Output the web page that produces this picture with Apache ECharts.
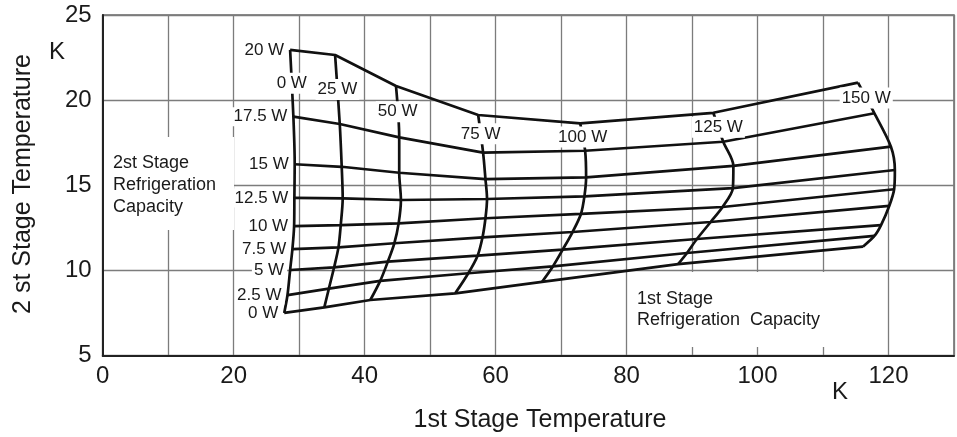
<!DOCTYPE html>
<html>
  <head>
    <meta charset='UTF-8'>
    <title>Refrigeration capacity map</title>
    <script src="https://cdn.jsdelivr.net/npm/echarts@6/dist/echarts.min.js"></script>
    <style>
      html, body { margin: 0; padding: 0; background: #fff; }
    </style>
  </head>
  <body>
    <div id="main" style="width: 957px;height:437px;"></div>
    <script type="text/javascript">
    // loads (W) on each stage
    var q1Loads = [0, 25, 50, 75, 100, 125, 150];
    var q2Loads = [0, 2.5, 5, 7.5, 10, 12.5, 15, 17.5, 20];

    // 1st stage temperature (K) at each crossing: one row per 1st stage load, columns follow q2Loads
    var t1 = [
      [27.72, 28.22, 28.62, 28.97, 29.23, 29.27, 29.32, 29.12, 28.62],
      [33.84, 34.54, 35.34, 36.00, 36.35, 36.65, 36.50, 36.20, 35.49],
      [40.87, 42.38, 43.54, 44.53, 45.19, 45.54, 45.28, 45.28, 44.79],
      [53.83, 55.83, 57.25, 58.00, 58.45, 58.69, 58.45, 58.09, 57.34],
      [67.08, 68.74, 70.25, 71.75, 73.03, 73.56, 73.82, 73.67, 72.91],
      [87.87, 89.23, 90.74, 92.84, 94.65, 96.23, 96.31, 94.76, 93.25],
      [116.09, 117.85, 118.86, 120.11, 120.86, 120.97, 120.37, 117.85, 115.34]
    ];
    // 2nd stage temperature (K) at the same crossings
    var t2 = [
      [7.51, 8.56, 10.03, 11.26, 12.61, 14.26, 16.24, 19.03, 22.95],
      [7.84, 8.94, 10.19, 11.36, 12.67, 14.24, 16.09, 18.60, 22.65],
      [8.27, 9.39, 10.52, 11.60, 12.77, 14.14, 15.74, 17.82, 20.83],
      [8.66, 9.84, 10.87, 11.95, 13.07, 14.20, 15.37, 16.92, 19.13],
      [9.33, 10.24, 11.23, 12.26, 13.32, 14.35, 15.47, 17.03, 18.64],
      [10.38, 11.03, 11.85, 12.85, 13.73, 14.84, 16.14, 17.56, 19.26],
      [11.40, 12.03, 12.67, 13.79, 14.77, 15.90, 17.27, 19.23, 21.03]
    ];

    var xTickLabels = [0, 20, 40, 60, 80, 100, 120];
    var yTickLabels = [5, 10, 15, 20, 25];

    var FONT = "'Liberation Sans', Arial, Helvetica, sans-serif";
    var INK = '#111';
    var TXT = '#1a1a1a';

    var myChart = echarts.init(document.getElementById('main'));

    var series = [];
    var curveStyle = { color: INK, width: 2.7 };

    // constant 1st stage load curves (roughly vertical)
    q1Loads.forEach(function (w, i) {
      series.push({
        type: 'line', z: 3, symbol: 'none', smooth: 0.3,
        lineStyle: curveStyle,
        data: q2Loads.map(function (_, j) { return [t1[i][j], t2[i][j]]; })
      });
    });
    // constant 2nd stage load lines (roughly horizontal)
    q2Loads.forEach(function (w, j) {
      series.push({
        type: 'line', z: 3, symbol: 'none',
        lineStyle: curveStyle,
        data: q1Loads.map(function (_, i) { return [t1[i][j], t2[i][j]]; })
      });
    });

    var labelBase = {
      show: true,
      opacity: 1,
      color: TXT,
      fontFamily: FONT,
      fontSize: 17,
      lineHeight: 17,
      backgroundColor: '#fff',
      formatter: '{b}'
    };

    // 2nd stage load labels, left of the 0 W end of each line
    series.push({
      type: 'scatter', zlevel: 1, z: 6, symbolSize: 0, silent: true,
      itemStyle: { color: '#000', opacity: 1 },
      label: Object.assign({}, labelBase, { position: 'left', distance: 3, padding: [1, 3, 1, 2] }),
      data: q2Loads.map(function (w, j) {
        return { name: w + ' W', value: [t1[0][j], t2[0][j]] };
      })
    });
    // 1st stage load labels, on each curve between the 17.5 W and 20 W lines
    series.push({
      type: 'scatter', zlevel: 1, z: 6, symbolSize: 0, silent: true,
      itemStyle: { color: '#000', opacity: 1 },
      label: Object.assign({}, labelBase, { position: 'inside', padding: [2, 2] }),
      data: q1Loads.map(function (w, i) {
        return { name: w + ' W', value: [(t1[i][7] + t1[i][8]) / 2, (t2[i][7] + t2[i][8]) / 2] };
      })
    });

    var option = {
      animation: false,
      backgroundColor: '#fff',
      grid: {
        left: 102.7, top: 15, right: -8.6, bottom: 81.3,
        show: true, borderColor: '#666', borderWidth: 1.5, backgroundColor: 'transparent'
      },
      xAxis: {
        type: 'value', min: 0, max: 130, interval: 10,
        axisLine: { lineStyle: { color: '#222', width: 2 } },
        axisTick: { show: false },
        splitLine: { lineStyle: { color: '#7c7c7c', width: 1.3 } },
        axisLabel: {
          color: TXT, fontFamily: FONT, fontSize: 24, margin: 9,
          formatter: function (v) { return xTickLabels.indexOf(v) >= 0 ? String(v) : ''; }
        }
      },
      yAxis: {
        type: 'value', min: 5, max: 25, interval: 5,
        axisLine: { lineStyle: { color: '#222', width: 2 } },
        axisTick: { show: false },
        splitLine: { lineStyle: { color: '#7c7c7c', width: 1.3 } },
        axisLabel: {
          color: TXT, fontFamily: FONT, fontSize: 24, margin: 11,
          formatter: function (v) { return yTickLabels.indexOf(v) >= 0 ? String(v) : ''; }
        }
      },
      graphic: [
        { type: 'rect', z: 10, shape: { x: 104, y: 137, width: 130, height: 93 }, style: { fill: '#fff' } },
        { type: 'text', z: 11, x: 113, y: 152,
          style: { text: '2st Stage\nRefrigeration\nCapacity', font: '18px ' + FONT, lineHeight: 22, fill: TXT, verticalAlign: 'top' } },
        { type: 'rect', z: 10, shape: { x: 636, y: 272, width: 196, height: 75 }, style: { fill: '#fff' } },
        { type: 'text', z: 11, x: 637, y: 288.5,
          style: { text: '1st Stage\nRefrigeration  Capacity', font: '18px ' + FONT, lineHeight: 21, fill: TXT, verticalAlign: 'top' } },
        { type: 'text', z: 11, x: 23, y: 184, rotation: Math.PI / 2,
          style: { text: '2 st Stage Temperature', font: '25px ' + FONT, fill: TXT, align: 'center', verticalAlign: 'middle' } },
        { type: 'text', z: 11, x: 540, y: 420,
          style: { text: '1st Stage Temperature', font: '25px ' + FONT, fill: TXT, align: 'center', verticalAlign: 'middle' } },
        { type: 'text', z: 11, x: 57, y: 52,
          style: { text: 'K', font: '24px ' + FONT, fill: TXT, align: 'center', verticalAlign: 'middle' } },
        { type: 'text', z: 11, x: 840, y: 392,
          style: { text: 'K', font: '24px ' + FONT, fill: TXT, align: 'center', verticalAlign: 'middle' } }
      ],
      series: series
    };
    myChart.setOption(option);
    </script>
  </body>
</html>
